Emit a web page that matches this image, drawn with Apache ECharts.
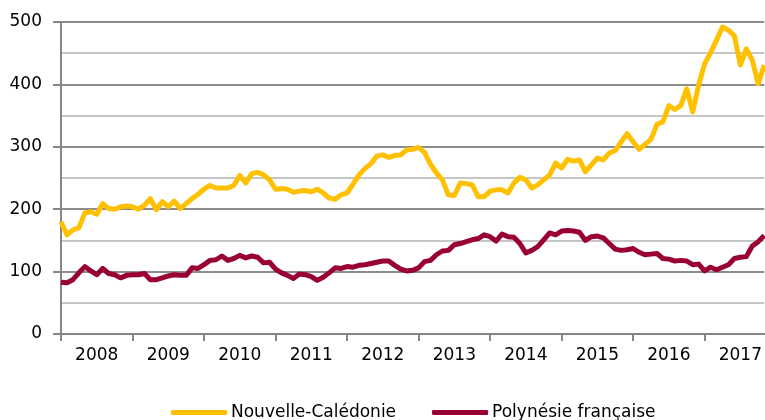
<!DOCTYPE html>
<html>
<head>
<meta charset="utf-8">
<script src="https://cdn.jsdelivr.net/npm/echarts@6/dist/echarts.min.js"></script>
<style>
    html, body { margin: 0; padding: 0; background: #fff; }
    #chart { width: 765px; height: 420px; }
</style>
</head>
<body>
<div id="chart"></div>
<script>
// années affichées sur l'axe
const years = ['2008', '2009', '2010', '2011', '2012', '2013', '2014', '2015', '2016', '2017']
const months = ['01', '02', '03', '04', '05', '06', '07', '08', '09', '10', '11', '12']

// Nouvelle-Calédonie, janv. 2008 -> nov. 2017
const caledonie = [
    180, 159, 167, 170, 194, 196, 192, 209, 201, 200, 204, 205,
    204, 200, 206, 217, 199, 212, 204, 213, 201, 209, 217, 224,
    232, 238, 234, 234, 234, 238, 254, 242, 257, 259, 255, 247,
    232, 233, 232, 227, 229, 230, 228, 232, 226, 218, 216, 223,
    226, 240, 255, 265, 273, 285, 287, 283, 286, 287, 295, 296,
    299, 291, 272, 258, 247, 223, 222, 242, 241, 239, 220, 220,
    229, 231, 231, 226, 242, 251, 247, 234, 239, 247, 255, 274,
    266, 280, 277, 279, 260, 271, 282, 279, 290, 294, 308, 321,
    308, 296, 304, 312, 336, 340, 366, 360, 366, 393, 356, 399,
    433, 451, 471, 492, 487, 478, 431, 457, 439, 401, 431
]

// Polynésie française
const polynesie = [
    83, 82, 87, 98, 108, 101, 95, 105, 97, 95, 90, 94,
    95, 95, 97, 87, 87, 90, 93, 95, 94, 94, 106, 105,
    111, 118, 119, 125, 118, 121, 126, 122, 125, 123, 114, 115,
    104, 98, 94, 89, 96, 95, 92, 86, 91, 98, 106, 105,
    108, 107, 110, 111, 113, 115, 117, 117, 110, 104, 101, 102,
    106, 116, 118, 127, 133, 134, 143, 145, 148, 151, 153, 159,
    156, 149, 160, 156, 155, 145, 130, 134, 140, 151, 162, 159,
    165, 166, 165, 163, 150, 156, 157, 154, 145, 136, 134, 135,
    137, 131, 127, 128, 129, 121, 120, 117, 118, 117, 111, 112,
    101, 107, 103, 107, 111, 121, 123, 124, 141, 148, 158
]

// catégories mensuelles
const categories = []
years.forEach(y => months.forEach(m => categories.push(y + '-' + m)))
categories.length = caledonie.length

const font = 'DejaVu Sans'
const chart = echarts.init(document.getElementById('chart'))

chart.setOption({
    animation: false,
    backgroundColor: '#fff',
    textStyle: { fontFamily: font },
    grid: { left: 61, right: 0, top: 22, bottom: 86 },
    legend: {
        left: 166,
        top: 399,
        itemGap: 36,
        itemWidth: 56,
        itemHeight: 5,
        icon: 'roundRect',
        textStyle: { fontFamily: font, fontSize: 17, color: '#000', padding: [0, 0, 0, -1] },
        data: ['Nouvelle-Calédonie', 'Polynésie française']
    },
    xAxis: {
        type: 'category',
        boundaryGap: false,
        data: categories,
        axisLine: { lineStyle: { color: '#868686', width: 2 } },
        axisTick: {
            interval: (i) => i % 12 === 0,
            length: 7,
            lineStyle: { color: '#868686', width: 2 }
        },
        axisLabel: {
            interval: (i) => i % 12 === 6,
            formatter: (v) => v.slice(0, 4),
            margin: 13,
            fontFamily: font,
            fontSize: 17,
            color: '#000'
        },
        splitLine: { show: false }
    },
    yAxis: {
        type: 'value',
        min: 0,
        max: 500,
        interval: 100,
        axisLine: { show: true, lineStyle: { color: '#868686', width: 2 } },
        axisTick: { show: true, length: 8, lineStyle: { color: '#868686', width: 2 } },
        axisLabel: { margin: 19, fontFamily: font, fontSize: 17, color: '#000' },
        splitLine: { lineStyle: { color: '#8c8c8c', width: 2 } },
        minorTick: { show: false, splitNumber: 2 },
        minorSplitLine: { show: true, lineStyle: { color: '#c6c6c6', width: 2 } }
    },
    series: [
        {
            name: 'Nouvelle-Calédonie',
            type: 'line',
            data: caledonie,
            symbol: 'none',
            itemStyle: { color: '#FFC000' },
            lineStyle: { color: '#FFC000', width: 5, join: 'round', cap: 'butt' }
        },
        {
            name: 'Polynésie française',
            type: 'line',
            data: polynesie,
            symbol: 'none',
            itemStyle: { color: '#990033' },
            lineStyle: { color: '#990033', width: 5, join: 'round', cap: 'butt' }
        }
    ]
})
</script>
</body>
</html>
